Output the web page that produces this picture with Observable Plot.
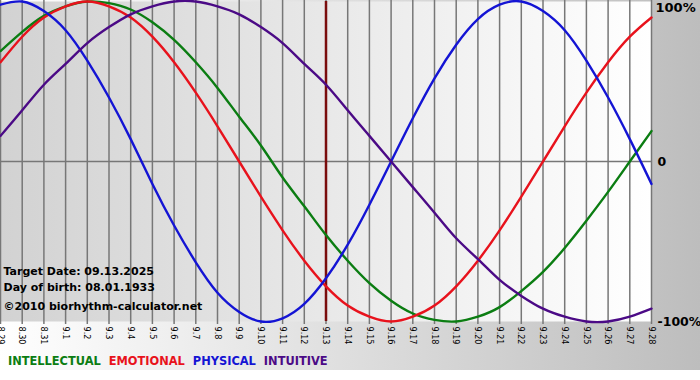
<!DOCTYPE html>
<html><head><meta charset="utf-8">
<script src="https://cdn.jsdelivr.net/npm/d3@7"></script>
<script src="https://cdn.jsdelivr.net/npm/@observablehq/plot@0.6"></script>
<style>
html,body{margin:0;padding:0;background:#fff;}
#chart{position:relative;width:700px;height:370px;background:linear-gradient(to right,#ffffff,#bdbdbd);overflow:hidden;}
#legend{position:absolute;left:8px;top:354px;font:bold 11.4px "DejaVu Sans",Verdana,sans-serif;line-height:14px;white-space:nowrap;}
#legend span{margin-right:8px;}
</style></head><body>
<div id="chart"><div id="legend"></div></div>
<script>
const dateLabels = ["8.29","8.30","8.31","9.1","9.2","9.3","9.4","9.5","9.6","9.7","9.8","9.9","9.10","9.11","9.12","9.13","9.14","9.15","9.16","9.17","9.18","9.19","9.20","9.21","9.22","9.23","9.24","9.25","9.26","9.27","9.28"];
const intellectual = [69,81,91,97,100,99,95,87,76,62,46,28,10,-10,-28,-46,-62,-76,-87,-95,-99,-100,-97,-91,-81,-69,-54,-37,-19,0,19];
const emotional = [62,78,90,97,100,97,90,78,62,43,22,0,-22,-43,-62,-78,-90,-97,-100,-97,-90,-78,-62,-43,-22,0,22,43,62,78,90];
const physical = [98,100,94,82,63,40,14,-14,-40,-63,-82,-94,-100,-98,-89,-73,-52,-27,0,27,52,73,89,98,100,94,82,63,40,14,-14];
const intuitive = [16,32,48,61,74,84,92,97,100,100,97,92,84,74,61,48,32,16,0,-16,-32,-48,-61,-74,-84,-92,-97,-100,-100,-97,-92];
const seriesNames = ["INTELLECTUAL","EMOTIONAL","PHYSICAL","INTUITIVE"];
const seriesColors = ["#0b7d12","#e8121c","#1414d4","#4b0a86"];
const targetDate = "9.13";
const infoLines = ["Target Date: 09.13.2025","Day of birth: 08.01.1933","\u00a92010 biorhythm-calculator.net"];
const yTicks = [100, 0, -100];
const yTickLabels = ["100%","0","-100%"];

const seriesValues = [intellectual, emotional, physical, intuitive];
const days = dateLabels.map((_, i) => i);
const rows = [];
seriesNames.forEach((name, s) => seriesValues[s].forEach((v, i) => rows.push({day: i, value: v, series: name})));
const font = "'DejaVu Sans', Verdana, sans-serif";
const infoOffsets = [-50, -34, -15];

const svg = Plot.plot({
  width: 700, height: 350,
  marginTop: 1, marginBottom: 29, marginLeft: 0, marginRight: 49,
  style: {background: "transparent", overflow: "visible", fontFamily: font},
  x: {axis: null, domain: d3.extent(days)},
  y: {axis: null, domain: [-100, 100]},
  color: {domain: seriesNames, range: seriesColors},
  marks: [
    Plot.frame({fill: "#e0e0e0", stroke: "none"}),
    Plot.ruleX(days, {x: d => d, stroke: "#777", strokeWidth: 1.5, insetTop: -1, insetBottom: -3}),
    Plot.ruleY([0], {stroke: "#777", strokeWidth: 1.5}),
    Plot.ruleX([dateLabels.indexOf(targetDate)], {stroke: "#7a0d0d", strokeWidth: 2.5}),
    Plot.line(rows, {x: "day", y: "value", z: "series", stroke: "series", strokeWidth: 2.4, curve: "natural"}),
    ...infoLines.map((t, i) => Plot.text([t], {text: d => d, frameAnchor: "bottom-left", textAnchor: "start", lineAnchor: "middle", dx: 3, dy: infoOffsets[i], fontSize: 11, fontWeight: "bold", fontFamily: font, fill: "#000"})),
    Plot.text(days, {x: d => d, text: i => dateLabels[i], frameAnchor: "bottom", rotate: 90, textAnchor: "start", lineAnchor: "middle", dy: 5, fontSize: 9, fontFamily: "'DejaVu Sans Condensed', 'DejaVu Sans', sans-serif", fill: "#000"}),
    Plot.text(yTicks.slice(1), {y: d => d, text: d => yTickLabels[yTicks.indexOf(d)], frameAnchor: "right", textAnchor: "start", lineAnchor: "middle", dx: 6, fontSize: 12.5, fontWeight: "bold", fontFamily: font, fill: "#000"}),
    Plot.text(yTicks.slice(0, 1), {y: d => d, text: d => yTickLabels[yTicks.indexOf(d)], frameAnchor: "right", textAnchor: "start", lineAnchor: "middle", dx: 4, dy: 6, fontSize: 13, fontWeight: "bold", fontFamily: font, fill: "#000"})
  ]
});

const ns = "http://www.w3.org/2000/svg";
const defs = document.createElementNS(ns, "defs");
defs.innerHTML = '<linearGradient id="plotBg" x1="0" y1="0" x2="1" y2="0"><stop offset="0" stop-color="#d2d2d2"/><stop offset="1" stop-color="#ffffff"/></linearGradient>';
svg.insertBefore(defs, svg.firstChild);
svg.querySelectorAll('[aria-label="frame"]').forEach(el => {
  el.setAttribute("fill", "url(#plotBg)");
  el.querySelectorAll("rect").forEach(r => r.setAttribute("fill", "url(#plotBg)"));
});
svg.style.position = "absolute";
svg.style.left = "0"; svg.style.top = "0";
const chart = document.getElementById("chart");
chart.insertBefore(svg, chart.firstChild);

const legend = d3.select("#legend");
seriesNames.forEach((n, i) => legend.append("span").style("color", seriesColors[i]).text(n));
</script>
</body></html>
